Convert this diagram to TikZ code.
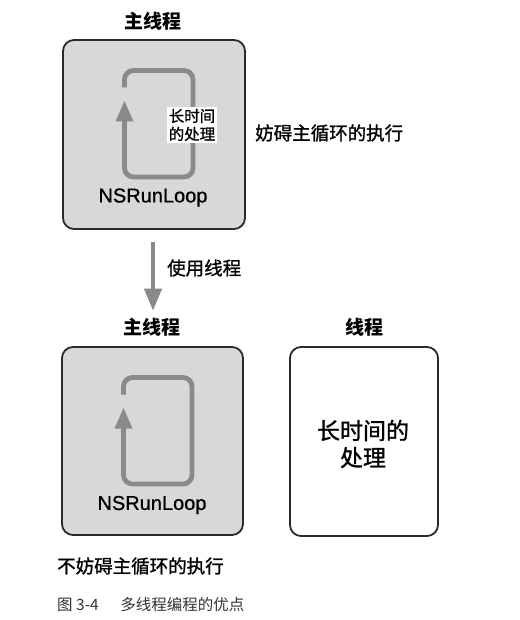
\documentclass[tikz,border=0pt]{standalone}
\usepackage{fontspec}
\setmainfont{Liberation Sans}
\newfontfamily\cjk{Noto Sans CJK SC}
\newfontfamily\cjkm[FakeBold=1.2]{Noto Sans CJK SC}
\newfontfamily\nsrfont[FakeBold=0.8]{Liberation Sans}
\usetikzlibrary{arrows.meta}
\definecolor{boxgray}{HTML}{D8D8D8}
\definecolor{loopgray}{HTML}{8A8A8A}
\definecolor{edgegray}{HTML}{2A2A2A}
\tikzset{
  thread/.style={draw=edgegray, line width=1.8pt, rounded corners=11pt},
  title/.style={font=\cjk\bfseries\fontsize{19}{22}\selectfont, inner sep=0pt},
  label/.style={font=\cjkm\fontsize{18.5}{22}\selectfont, inner sep=0pt, anchor=west},
  nsr/.style={font=\nsrfont\fontsize{20}{24}\selectfont, inner sep=0pt},
  loopline/.style={draw=loopgray, line width=4.8pt, rounded corners=9pt},
  looptip/.style={fill=loopgray},
}
\newcommand\myrunloop[2]{%
  \begin{scope}[shift={(#1,#2)}]
    \path[loopline] (61.5,47.5) -- (61.5,30.5) -- (130,30.5) -- (130,137) -- (61.5,137) -- (61.5,81);
    \fill[looptip] (52.5,81.5) -- (70.5,81.5) -- (61.5,61) -- cycle;
  \end{scope}}
\begin{document}
\begin{tikzpicture}[x=1pt,y=-1pt]
  \useasboundingbox (0,0) rectangle (519,620);
  % top: main thread
  \node[title] (t1) at (153,21) {主线程};
  \draw[thread, fill=boxgray] (63,40) rectangle (245,229);
  \coordinate (box1s) at (153,229);
  \myrunloop{63}{40}
  \node[font=\cjkm\fontsize{15.5}{18}\selectfont, fill=white, inner sep=1.5pt, align=left] (long1) at (192,125) {长时间\\的处理};
  \node[nsr] (nsr1) at (153,197.5) {NSRunLoop};
  \node[label] (block) at (255,133) {妨碍主循环的执行};
  % arrow
  \node[label] (use) at (167,268) {使用线程};
  \node[title] (t2) at (152,327) {主线程};
  \node[title] (t3) at (364,327) {线程};
  \draw[draw=loopgray, line width=4pt, -{Triangle[width=17pt,length=22pt]}, shorten <=13pt, shorten >=7pt] (box1s) -- (t2.north -| box1s);
  % bottom boxes
  \draw[thread, fill=boxgray] (62,347) rectangle (243,535);
  \myrunloop{62}{347}
  \node[nsr] (nsr2) at (152,505) {NSRunLoop};
  \draw[thread, fill=white] (290,347) rectangle (438,536);
  \node[font=\cjkm\fontsize{23}{27}\selectfont, inner sep=0pt, align=center] (long2) at (363,444) {长时间的\\处理};
  \node[label] (noblock) at (57,566) {不妨碍主循环的执行};
  \node[font=\cjk\fontsize{15.5}{18}\selectfont, inner sep=0pt, anchor=west, text=black!80] (cap) at (57,605) {图 3-4\hspace{1.4em}多线程编程的优点};
\end{tikzpicture}
\end{document}
